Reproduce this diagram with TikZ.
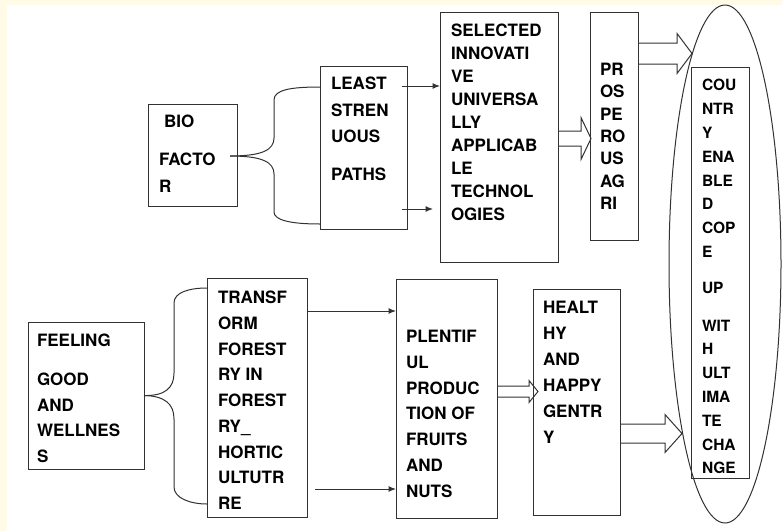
\documentclass[tikz,border=0pt]{standalone}
\usepackage{fontspec}
\setmainfont{TeX Gyre Heros}
\newfontfamily\labelfont{TeX Gyre Heros}
\usepackage{tikz}
\usetikzlibrary{arrows.meta,calc,positioning,shapes.geometric}
\definecolor{PageCream}{RGB}{255,251,230}
\definecolor{InkGrey}{RGB}{50,50,50}

\tikzset{
  blk/.style={draw=InkGrey, line width=1pt, inner sep=0pt, outer sep=0pt},
  txt/.style={font=\labelfont\bfseries\fontsize{17}{#1}\selectfont, align=left,
    inner sep=0pt, outer sep=0pt},
  txt/.default=23,
  fork/.style={draw=InkGrey, line width=1pt},
  pointer/.style={draw=InkGrey, line width=1pt, -{Latex[length=7.5pt,width=6pt]}},
  hollow/.style={draw=InkGrey, line width=1pt, line join=miter},
}

% wide open arrow: tail, tip, half shaft, half head, head length
\newcommand{\blockarrow}[5]{%
  \draw[hollow] ($(#1)+(0,-#3)$) -- ($(#2)+(-#5,-#3)$) -- ($(#2)+(-#5,-#4)$) -- (#2)
    -- ($(#2)+(-#5,#4)$) -- ($(#2)+(-#5,#3)$) -- ($(#1)+(0,#3)$);}

\begin{document}
\begin{tikzpicture}[x=1pt,y=-1pt]
  \useasboundingbox (0,0) rectangle (782,531);
  \fill[PageCream] (0,0) rectangle (782,531);
  \fill[white] (7,5) rectangle (782,531);

  % upper row
  \node[blk, minimum width=89pt, minimum height=102pt] (bio) at (192.5,155) {};
  \node[blk, minimum width=87pt, minimum height=163pt] (least) at (363.5,147.5) {};
  \node[blk, minimum width=118pt, minimum height=250pt] (sel) at (499,137) {};
  \node[blk, minimum width=48pt, minimum height=228pt] (pros) at (614,126) {};

  % lower row
  \node[blk, minimum width=116pt, minimum height=147pt] (feel) at (86,395.5) {};
  \node[blk, minimum width=100pt, minimum height=239pt] (trans) at (257,397.5) {};
  \node[blk, minimum width=101pt, minimum height=239pt] (plen) at (446.5,398.5) {};
  \node[blk, minimum width=87pt, minimum height=226pt] (heal) at (576.5,402) {};

  % the oval with its box
  \node[blk, ellipse, minimum width=112pt, minimum height=518pt] (oval) at (725,264) {};
  \node[blk, minimum width=58pt, minimum height=411pt] (ctry) at (720,272.5) {};

  \node[txt=27, below right=11.3pt and 11pt of bio.north west] (bioT)
    {\hspace*{5pt}BIO\\[11pt]FACTO\\R};
  \node[txt=26.5, below right=11pt and 11pt of least.north west] (leastT)
    {LEAST\\STREN\\UOUS\\[11.5pt]PATHS};
  \node[txt, below right=12pt and 11pt of sel.north west] (selT)
    {SELECTED\\INNOVATI\\VE\\UNIVERSA\\LLY\\APPLICAB\\LE\\TECHNOL\\OGIES};
  \node[txt=22.4, below right=51pt and 10pt of pros.north west] (prosT)
    {PR\\OS\\PE\\RO\\US\\AG\\RI};
  \node[txt, font=\labelfont\bfseries\fontsize{15.5}{23.8}\selectfont,
    below right=12.5pt and 11pt of ctry.north west] (ctryT)
    {COU\\NTR\\Y\\ENA\\BLE\\D\\COP\\E\\[12pt]UP\\[14pt]WIT\\H\\ULT\\IMA\\TE\\CHA\\NGE};
  \node[txt=25.5, below right=12pt and 9pt of feel.north west] (feelT)
    {FEELING\\[13.5pt]GOOD\\AND\\WELLNES\\S};
  \node[txt=25.75, below right=13pt and 11pt of trans.north west] (transT)
    {TRANSF\\ORM\\FOREST\\RY IN\\FOREST\\RY\_\\HORTIC\\ULTUTR\\RE};
  \node[txt=25.8, below right=51pt and 10pt of plen.north west] (plenT)
    {PLENTIF\\UL\\PRODUC\\TION OF\\FRUITS\\AND\\NUTS};
  \node[txt=26, below right=12pt and 10pt of heal.north west] (healT)
    {HEALT\\HY\\AND\\HAPPY\\GENTR\\Y};

  % forks out of the two left boxes
  \coordinate (bioFork) at (230,156);
  \draw[fork] (bioFork) .. controls (262,156) and (274,150) .. (274,138) -- (274,100)
    .. controls (274,90) and (290,87) .. ($(least.north west)+(0,21)$);
  \draw[fork] (bioFork) .. controls (262,156) and (274,162) .. (274,174) -- (274,212)
    .. controls (274,220) and (290,224) .. ($(least.south west)+(0,-5)$);
  \draw[fork] (feel.east) .. controls (165,396) and (174,388) .. (174,373) -- (174,303)
    .. controls (174,292) and (190,288) .. ($(trans.north west)+(0,10)$);
  \draw[fork] (feel.east) .. controls (165,396) and (174,404) .. (174,419) -- (174,487)
    .. controls (174,498) and (190,504) .. ($(trans.south west)+(0,-13)$);

  % thin arrows
  \coordinate (leastOut1) at ($(least.north east)+(-5,20)$);
  \coordinate (leastOut2) at ($(least.south east)+(-5,-20)$);
  \draw[pointer] (leastOut1) -- (leastOut1 -| sel.west);
  \draw[pointer] (leastOut2) -- ($(leastOut2 -| sel.west)+(-7,0)$);
  \coordinate (transOut1) at ($(trans.north east)+(0,33)$);
  \coordinate (transOut2) at ($(trans.south east)+(8,-28)$);
  \draw[pointer] (transOut1) -- (transOut1 -| plen.west);
  \draw[pointer] (transOut2) -- (transOut2 -| plen.west);

  % wide arrows
  \coordinate (selOut) at ($(sel.east)+(0,1.5)$);
  \coordinate (prosIn) at ($(selOut -| pros.west)+(1,0)$);
  \blockarrow{selOut}{prosIn}{7.5}{21}{10}
  \coordinate (prosOut) at ($(pros.north east)+(0,41.5)$);
  \coordinate (ovalIn1) at (692,53.5);
  \blockarrow{prosOut}{ovalIn1}{10.5}{20}{15}
  \coordinate (plenOut) at ($(plen.east)+(0,-7)$);
  \coordinate (healIn) at ($(plenOut -| heal.west)+(5,0)$);
  \blockarrow{plenOut}{healIn}{5.5}{11}{9}
  \coordinate (healOut) at ($(heal.east)+(0,31.5)$);
  \coordinate (ovalIn2) at (682,433.5);
  \blockarrow{healOut}{ovalIn2}{9.5}{19}{17}
\end{tikzpicture}
\end{document}
